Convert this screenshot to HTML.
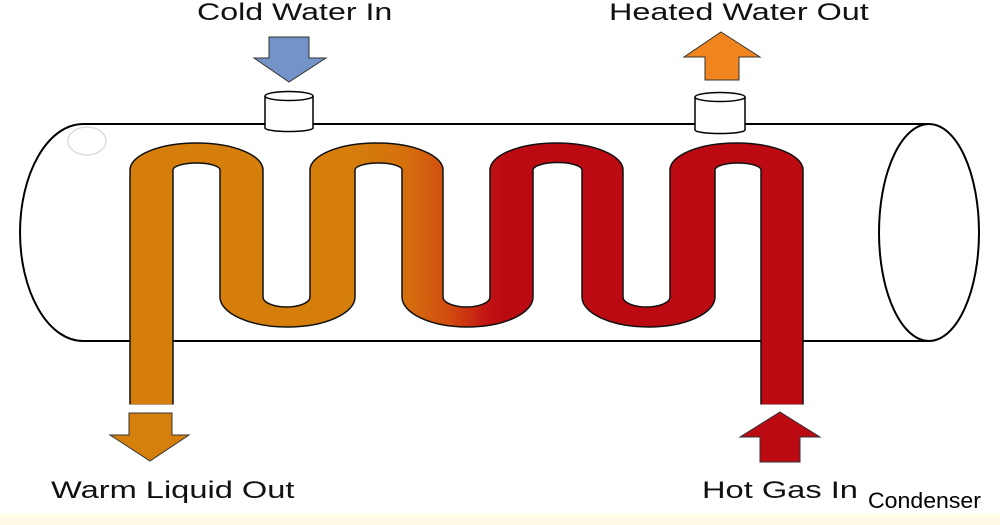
<!DOCTYPE html>
<html><head><meta charset="utf-8"><style>
html,body{margin:0;padding:0;background:#fff;}
svg{display:block;}
text{font-family:"Liberation Sans",Arial,sans-serif;}
</style></head><body>
<svg width="1000" height="525" viewBox="0 0 1000 525" xmlns="http://www.w3.org/2000/svg">
<defs>
<linearGradient id="g" gradientUnits="userSpaceOnUse" x1="350" y1="0" x2="505" y2="0">
<stop offset="0" stop-color="#D57E0C"/>
<stop offset="0.35" stop-color="#D5700D"/>
<stop offset="0.65" stop-color="#D24A10"/>
<stop offset="0.9" stop-color="#BF1212"/>
<stop offset="1" stop-color="#BC0A12"/>
</linearGradient>
</defs>
<rect x="0" y="514" width="1000" height="11" fill="#FFFBE6"/>
<!-- tank -->
<path d="M83,124 L929,124 M83,341 L929,341 M83,124 A63,108.5 0 0 0 83,341" fill="none" stroke="#000" stroke-width="2"/>
<ellipse cx="929" cy="232.5" rx="50" ry="108.5" fill="#fff" stroke="#000" stroke-width="2"/>
<ellipse cx="87" cy="141" rx="19" ry="14" fill="none" stroke="#ddd" stroke-width="1.5"/>
<!-- nozzles -->
<g fill="#fff" stroke="#000" stroke-width="1.5">
<path d="M265,96 L265,128 A24,3.5 0 0 0 313,128 L313,96"/>
<ellipse cx="289" cy="96" rx="24" ry="4.5"/>
<path d="M695,97 L695,130 A25,3.5 0 0 0 745,130 L745,97"/>
<ellipse cx="720" cy="97" rx="25" ry="4.5"/>
</g>
<!-- coil -->
<path d="M130,405 L130,170 A66.5,27 0 0 1 263,170 L263,297 A23.5,10 0 0 0 310,297 L310,170 A66.5,27 0 0 1 443,170 L443,297 A23.5,10 0 0 0 490,297 L490,170 A66.5,27 0 0 1 623,170 L623,297 A23.5,10 0 0 0 670,297 L670,170 A66.5,27 0 0 1 803,170 L803,405 L761,405 L761,170 A23,7 0 0 0 715,170 L715,297 A66.5,30 0 0 1 582,297 L582,170 A23,7 0 0 0 533,170 L533,297 A65.5,30 0 0 1 402,297 L402,170 A23.5,7 0 0 0 355,170 L355,297 A67.5,30 0 0 1 220,297 L220,170 A23.5,7 0 0 0 173,170 L173,405 Z" fill="url(#g)" stroke="#111" stroke-width="1.5"/>
<rect x="128" y="404.5" width="48" height="4" fill="#fff"/>
<rect x="759" y="404.5" width="48" height="4" fill="#fff"/>
<!-- arrows -->
<polygon points="269,37 309,37 309,58 326,58 289,82 254,58 269,58" fill="#7393C9" stroke="#333" stroke-width="1"/>
<polygon points="721,32 760,57 739,57 739,80 705,80 705,57 684,57" fill="#F0841E" stroke="#333" stroke-width="1"/>
<polygon points="129,413 172,413 172,435 189,435 150,461 110,435 129,435" fill="#D5800C" stroke="#333" stroke-width="1"/>
<polygon points="780,412 820,437 800,437 800,462 760,462 760,437 740,437" fill="#BC0A12" stroke="#333" stroke-width="1"/>
<!-- labels -->
<text transform="translate(197,20) scale(1.34,1)" font-size="24" fill="#111">Cold Water In</text>
<text transform="translate(609,20) scale(1.35,1)" font-size="24" fill="#111">Heated Water Out</text>
<text transform="translate(51,498) scale(1.36,1)" font-size="24" fill="#111">Warm Liquid Out</text>
<text transform="translate(702,498) scale(1.36,1)" font-size="24" fill="#111">Hot Gas In</text>
<text transform="translate(868,508) scale(1.05,1)" font-size="22" fill="#000">Condenser</text>
</svg>
</body></html>
